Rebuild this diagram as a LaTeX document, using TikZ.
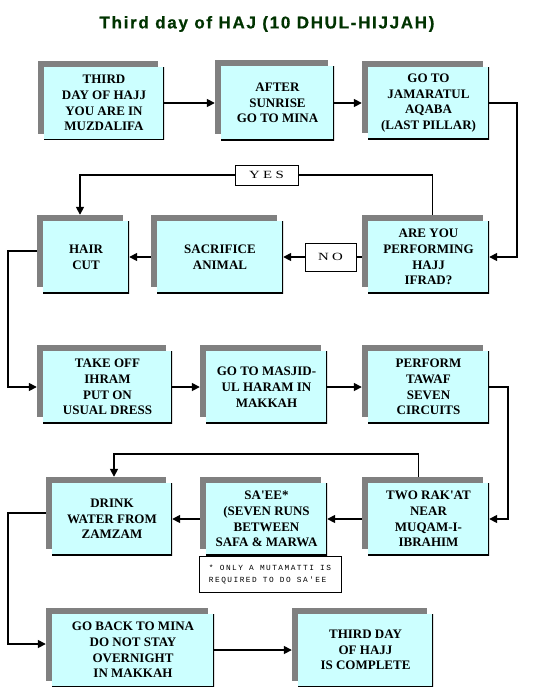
\documentclass[tikz,border=0pt]{standalone}
\usepackage{fontspec}
\setmainfont{Liberation Serif}
\newfontfamily\boxfont{Liberation Serif}
\newfontfamily\titlefont[LetterSpace=10,FakeBold=0.8]{Liberation Sans}
\newfontfamily\notefont[LetterSpace=19]{Liberation Mono}
\newfontfamily\labelfont[LetterSpace=30,FakeStretch=1.35]{Liberation Serif}
\usetikzlibrary{arrows.meta,shadows}
\definecolor{boxcyan}{HTML}{CCFFFF}
\definecolor{shadowgray}{HTML}{808080}
\definecolor{titlegreen}{HTML}{003300}
\begin{document}
\begin{tikzpicture}[x=1pt,y=-1pt,
  stepbox/.style={fill=boxcyan, inner sep=0pt, align=center,
    font=\boxfont\bfseries\fontsize{13}{15.7}\selectfont,
    drop shadow={shadow xshift=-6pt, shadow yshift=6pt, fill=shadowgray, opacity=1},
    path picture={\draw[line width=2pt,black]
      (path picture bounding box.north east) -- (path picture bounding box.south east)
      -- (path picture bounding box.south west);}},
  labelbox/.style={draw, line width=0.8pt, fill=white, inner sep=0pt,
    font=\labelfont\fontsize{11}{13}\selectfont},
  conn/.style={line width=1.6pt},
  arr/.style={conn, -{Triangle[length=8pt,width=8pt]}}]
\useasboundingbox[fill=white] (0,0) rectangle (540,699);

\node[font=\titlefont\bfseries\fontsize{17}{20}\selectfont, text=titlegreen] (title) at (267,24) {Third day of HAJ (10 DHUL-HIJJAH)};

% row 1
\node[stepbox, minimum width=120, minimum height=73] (b1) at (104,103) {THIRD\\DAY OF HAJJ\\YOU ARE IN\\MUZDALIFA};
\node[stepbox, minimum width=113, minimum height=74] (b2) at (277.5,103) {AFTER\\SUNRISE\\GO TO MINA};
\node[stepbox, minimum width=121, minimum height=72] (b3) at (428.5,103) {GO TO\\JAMARATUL\\AQABA\\(LAST PILLAR)};
% row 2
\node[stepbox, minimum width=86, minimum height=72] (hair) at (86,257) {HAIR\\CUT};
\node[stepbox, minimum width=126, minimum height=72] (sac) at (220,257) {SACRIFICE\\ANIMAL};
\node[stepbox, minimum width=121, minimum height=72] (ifrad) at (428.5,257) {ARE YOU\\PERFORMING\\HAJJ\\IFRAD?};
\node[labelbox, minimum width=51, minimum height=28] (no) at (330.5,257) {NO};
\node[labelbox, minimum width=63, minimum height=20] (yes) at (266.5,175) {YES};
% row 3
\node[stepbox, minimum width=129, minimum height=72] (takeoff) at (107.5,387) {TAKE OFF\\IHRAM\\PUT ON\\USUAL DRESS};
\node[stepbox, minimum width=121, minimum height=72] (masjid) at (266.5,387) {GO TO MASJID-\\UL HARAM IN\\MAKKAH};
\node[stepbox, minimum width=121, minimum height=72] (tawaf) at (428.5,387) {PERFORM\\TAWAF\\SEVEN\\CIRCUITS};
% row 4
\node[stepbox, minimum width=120, minimum height=72] (drink) at (112,519) {DRINK\\WATER FROM\\ZAMZAM};
\node[stepbox, minimum width=121, minimum height=72] (saee) at (266.5,519) {SA'EE*\\(SEVEN RUNS\\BETWEEN\\SAFA \& MARWA};
\node[stepbox, minimum width=121, minimum height=72] (rakat) at (428.5,519) {TWO RAK'AT\\NEAR\\MUQAM-I-\\IBRAHIM};
\node[draw, line width=0.8pt, minimum width=142, minimum height=36, inner sep=0pt, align=left,
  font=\notefont\fontsize{7.8}{12}\selectfont] (note) at (270,574) {* ONLY A MUTAMATTI IS\\REQUIRED TO DO SA'EE};
% row 5
\node[stepbox, minimum width=162, minimum height=73] (goback) at (133,650) {GO BACK TO MINA\\DO NOT STAY\\OVERNIGHT\\IN MAKKAH};
\node[stepbox, minimum width=135, minimum height=73] (complete) at (365.5,650) {THIRD DAY\\OF HAJJ\\IS COMPLETE};

% connectors
\draw[arr] (b1.east) -- ([xshift=-6pt]b2.west);
\draw[arr] (b2.east) -- ([xshift=-6pt]b3.west);
\draw[arr] (b3.east) -- ++(28,0) |- (ifrad.east);
\draw[conn] ([xshift=-6pt]ifrad.west) -- (no.east);
\draw[arr] (no.west) -- (sac.east);
\draw[conn] ([xshift=4pt,yshift=6pt]ifrad.north) |- (yes.east);
\draw[arr] (yes.west) -| ([xshift=-6pt,yshift=6pt]hair.north);
\draw[arr] ([xshift=-6pt]sac.west) -- (hair.east);
\draw[arr] ([xshift=-6pt,yshift=6pt]hair.west) -- ++(-29,0) |- ([xshift=-6pt]takeoff.west);
\draw[arr] (takeoff.east) -- ([xshift=-6pt]masjid.west);
\draw[arr] (masjid.east) -- ([xshift=-6pt]tawaf.west);
\draw[arr] (tawaf.east) -- ++(19,0) |- (rakat.east);
\draw[arr] ([xshift=-6pt]rakat.west) -- (saee.east);
\draw[arr] ([xshift=-6pt]saee.west) -- (drink.east);
\draw[arr] ([xshift=-10pt,yshift=6pt]rakat.north) -- ++(0,-23) -| ([xshift=2pt,yshift=6pt]drink.north);
\draw[arr] ([xshift=-6pt,yshift=6pt]drink.west) -- ++(-38,0) |- ([xshift=-6pt,yshift=6pt]goback.west);
\draw[arr] (goback.east) -- ([xshift=-6pt]complete.west);
\end{tikzpicture}
\end{document}
